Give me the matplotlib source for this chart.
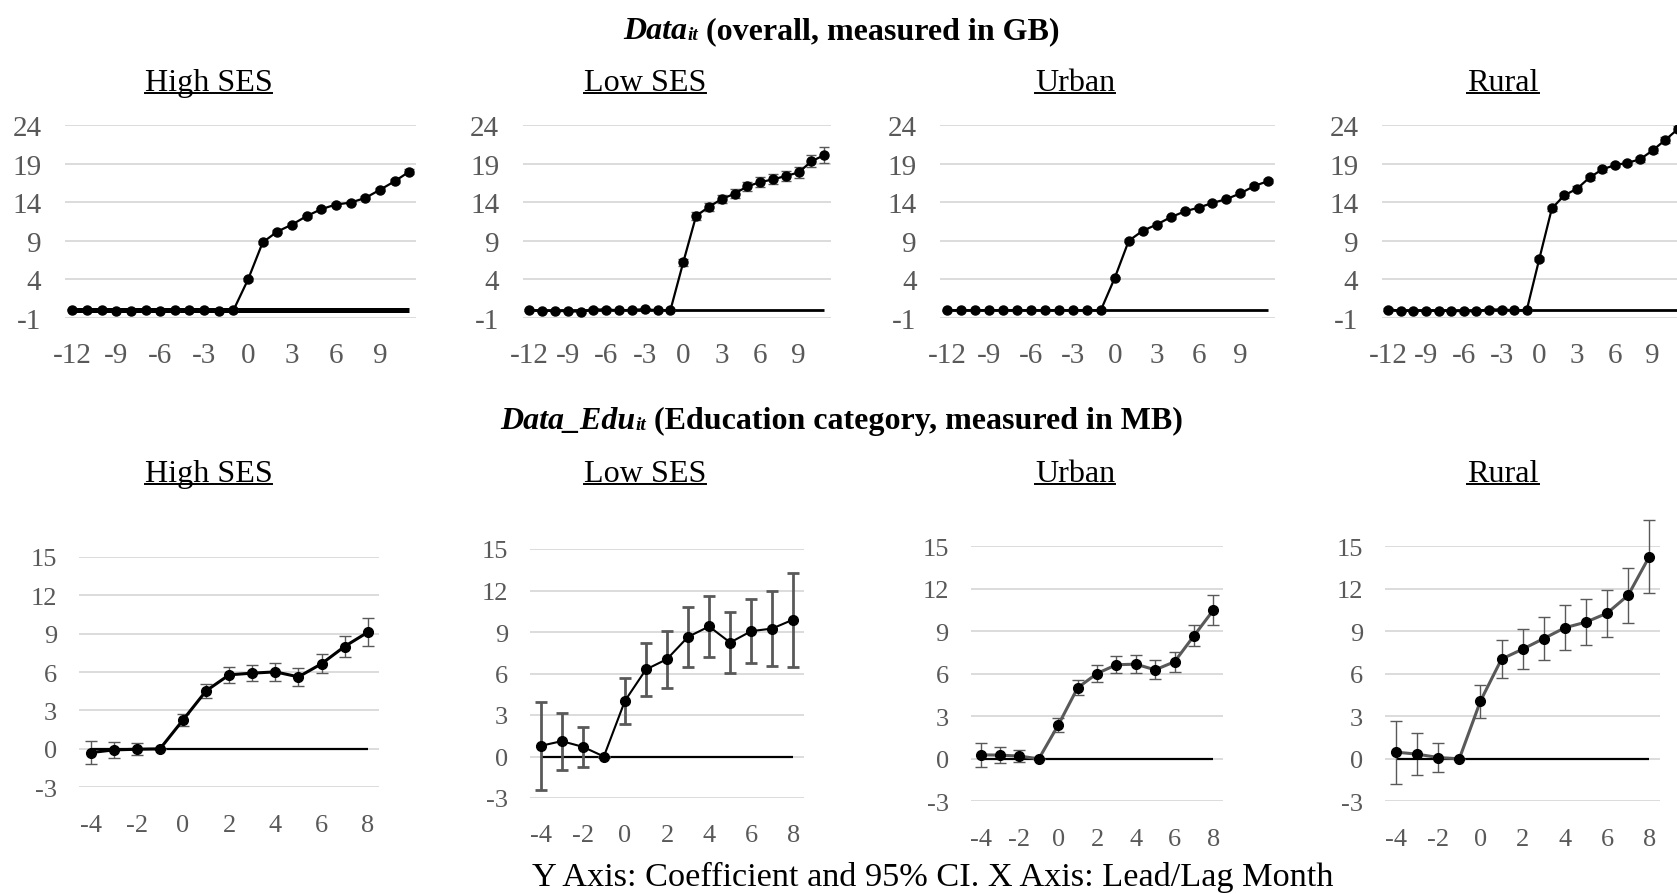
import matplotlib
matplotlib.use('Agg')
import matplotlib.pyplot as plt
from matplotlib.lines import Line2D

W, H = 1677, 895
DPI = 100
plt.rcParams['font.family'] = ['Liberation Serif', 'DejaVu Serif']
plt.rcParams['axes.unicode_minus'] = False

# ---------------- data ----------------
panel_names = ["High SES", "Low SES", "Urban", "Rural"]

top_x = list(range(-12, 12))
top_ticks = [-12, -9, -6, -3, 0, 3, 6, 9]
top_yticks = [-1, 4, 9, 14, 19, 24]

top_high = [0.1, 0.1, 0.1, -0.05, -0.05, 0.0, -0.05, 0.0, 0.1, 0.1, -0.05, 0.0,
            4.0, 8.8, 10.2, 11.1, 12.2, 13.1, 13.7, 13.95, 14.55, 15.6, 16.7, 17.95]
top_high_err = [0.1]*12 + [0.15, 0.2, 0.2, 0.2, 0.2, 0.2, 0.2, 0.2, 0.2, 0.2, 0.25, 0.3]
top_high_err[11] = 0.0

top_low = [0.0, -0.05, -0.1, -0.1, -0.2, 0.1, 0.1, 0.0, 0.05, 0.15, 0.0, 0.0,
           6.2, 12.2, 13.4, 14.4, 15.1, 16.05, 16.6, 16.95, 17.4, 17.85, 19.3, 20.1]
top_low_err = [0.15]*12 + [0.4, 0.5, 0.55, 0.55, 0.6, 0.6, 0.6, 0.65, 0.65, 0.7, 0.8, 1.05]
top_low_err[11] = 0.0

top_urban = [0.0, 0.0, 0.0, 0.0, 0.0, 0.0, 0.0, 0.0, 0.0, 0.0, 0.0, 0.0,
             4.2, 9.0, 10.3, 11.1, 12.05, 12.8, 13.3, 13.9, 14.4, 15.15, 16.1, 16.75]
top_urban_err = [0.1]*12 + [0.15, 0.2, 0.2, 0.2, 0.2, 0.2, 0.2, 0.2, 0.2, 0.2, 0.25, 0.25]
top_urban_err[11] = 0.0

top_rural = [0.1, -0.05, -0.05, -0.05, -0.05, -0.05, -0.15, -0.1, 0.1, 0.1, 0.0, 0.0,
             6.65, 13.2, 14.9, 15.75, 17.2, 18.25, 18.8, 19.1, 19.55, 20.7, 22.05, 23.45]
top_rural_err = [0.15]*12 + [0.3, 0.3, 0.3, 0.3, 0.3, 0.3, 0.3, 0.3, 0.3, 0.35, 0.35, 0.4]
top_rural_err[11] = 0.0

bot_x = list(range(-4, 9))
bot_ticks = [-4, -2, 0, 2, 4, 6, 8]
bot_yticks = [-3, 0, 3, 6, 9, 12, 15]

bot_high = [-0.29, -0.08, -0.03, 0.0, 2.26, 4.53, 5.78, 5.91, 6.01, 5.62, 6.64, 7.99, 9.1]
bot_high_err = [0.91, 0.6, 0.45, 0.0, 0.5, 0.57, 0.62, 0.64, 0.69, 0.69, 0.73, 0.85, 1.09]

bot_low = [0.77, 1.11, 0.7, 0.0, 4.02, 6.29, 7.04, 8.65, 9.4, 8.24, 9.06, 9.25, 9.9]
bot_low_err = [3.19, 2.05, 1.46, 0.0, 1.66, 1.95, 2.06, 2.16, 2.2, 2.2, 2.3, 2.7, 3.4]

bot_urban = [0.28, 0.26, 0.19, 0.0, 2.38, 5.01, 6.02, 6.64, 6.68, 6.28, 6.85, 8.68, 10.49]
bot_urban_err = [0.84, 0.58, 0.44, 0.0, 0.47, 0.54, 0.61, 0.61, 0.65, 0.67, 0.69, 0.75, 1.06]

bot_rural = [0.47, 0.33, 0.09, 0.0, 4.07, 7.04, 7.74, 8.49, 9.25, 9.65, 10.28, 11.55, 14.28]
bot_rural_err = [2.22, 1.46, 1.0, 0.0, 1.16, 1.35, 1.42, 1.5, 1.58, 1.62, 1.67, 1.95, 2.55]

title_top = ("Data", "it", " (overall, measured in GB)")
title_bot = ("Data_Edu", "it", " (Education category, measured in MB)")
footer = "Y Axis: Coefficient and 95% CI. X Axis: Lead/Lag Month"

# ---------------- layout (pixels) ----------------
fig = plt.figure(figsize=(W / DPI, H / DPI), dpi=DPI)
fig.patch.set_facecolor('white')
renderer = fig.canvas.get_renderer()

GRAY = '#595959'
GRID = '#d9d9d9'


def add_ax(x0, x1, ytop, ybot):
    return fig.add_axes([x0 / W, 1 - ybot / H, (x1 - x0) / W, (ybot - ytop) / H])


def style_ax(ax, xticks, yticks, xlim, ylim, fs, ypad, xpad):
    ax.set_xlim(*xlim)
    ax.set_ylim(*ylim)
    ax.set_xticks(xticks)
    ax.set_yticks(yticks)
    for s in ax.spines.values():
        s.set_visible(False)
    ax.tick_params(length=0, labelsize=fs, labelcolor=GRAY)
    ax.tick_params(axis='y', pad=ypad)
    ax.tick_params(axis='x', pad=xpad)
    ax.yaxis.grid(True, color=GRID, lw=1.3, zorder=0)
    ax.set_axisbelow(True)
    ax.patch.set_alpha(0)


top_specs = [
    (top_high, top_high_err, 65, 416.5, 3.6),
    (top_low, top_low_err, 522.9, 830.7, 2.0),
    (top_urban, top_urban_err, 940.3, 1275.3, 2.0),
    (top_rural, top_rural_err, 1382.0, 1684.0, 2.0),
]
for vals, errs, x0, x1, zlw in top_specs:
    ax = add_ax(x0, x1, 126, 319)
    style_ax(ax, top_ticks, top_yticks, (-12.5, 11.5), (-1, 24), 21, 17, 17)
    ax.plot([top_x[0], top_x[-1]], [0, 0], color='black', lw=zlw, zorder=2,
            solid_capstyle='butt')
    ax.errorbar(top_x, vals, yerr=errs, fmt='none', ecolor=GRAY, elinewidth=1.0,
                capsize=3.5, capthick=1.0, zorder=3)
    ax.plot(top_x, vals, color='black', lw=1.6, marker='o', ms=6.5,
            mfc='black', mec='black', zorder=4)

bot_specs = [
    (bot_high, bot_high_err, 79.2, 379.2, 557.7, 788.3, 'black', 2.2, 1.0),
    (bot_low, bot_low_err, 530.2, 803.8, 550.0, 799.0, 'black', 1.5, 2.0),
    (bot_urban, bot_urban_err, 971.0, 1223.0, 547.3, 802.3, GRAY, 2.2, 1.0),
    (bot_rural, bot_rural_err, 1385.4, 1659.9, 547.3, 802.3, GRAY, 2.2, 1.0),
]
for vals, errs, x0, x1, yt, yb, lc, llw, elw in bot_specs:
    ax = add_ax(x0, x1, yt, yb)
    style_ax(ax, bot_ticks, bot_yticks, (-4.5, 8.5), (-3, 15), 19, 16, 19)
    ax.plot([bot_x[0], bot_x[-1]], [0, 0], color='black', lw=1.6, zorder=2,
            solid_capstyle='butt')
    ax.errorbar(bot_x, vals, yerr=errs, fmt='none', ecolor=GRAY, elinewidth=elw,
                capsize=4.5, capthick=elw, zorder=3, clip_on=False)
    ax.plot(bot_x, vals, color=lc, lw=llw, marker='o', ms=7,
            mfc='black', mec='black', zorder=4, clip_on=False)


# ---------------- text helpers ----------------
def measure(txt, **kw):
    t = fig.text(0, 0, txt, **kw)
    w = t.get_window_extent(renderer).width
    t.remove()
    return w


def fit_size(txt, target_w, **kw):
    w = measure(txt, fontsize=20, **kw)
    return 20 * target_w / w


def composite_title(parts, x_left, x_right, baseline):
    main, sub, rest = parts
    kw_main = dict(fontweight='bold', fontstyle='italic')
    kw_rest = dict(fontweight='bold')
    w_main = measure(main, fontsize=20, **kw_main)
    w_sub = measure(sub, fontsize=12, **kw_main)
    w_rest = measure(rest, fontsize=20, **kw_rest)
    scale = (x_right - x_left) / (w_main + w_sub + w_rest)
    fs = 20 * scale
    x = x_left
    for txt, size, kw, dy in [(main, fs, kw_main, 0), (sub, fs * 0.6, kw_main, -1),
                              (rest, fs, kw_rest, 0)]:
        t = fig.text(x / W, 1 - (baseline - dy) / H, txt, fontsize=size, ha='left',
                     va='baseline', color='black', **kw)
        x += t.get_window_extent(renderer).width


def underlined(txt, cx, baseline, target_w, ul_y):
    fs = fit_size(txt, target_w)
    t = fig.text(cx / W, 1 - baseline / H, txt, fontsize=fs, ha='center',
                 va='baseline', color='black')
    bb = t.get_window_extent(renderer)
    fig.add_artist(Line2D([bb.x0 / W, bb.x1 / W], [1 - ul_y / H, 1 - ul_y / H],
                          transform=fig.transFigure, color='black', lw=1.4))


composite_title(title_top, 623.5, 1060.0, 39)
composite_title(title_bot, 500.5, 1184.0, 429)

top_centers = [208.5, 645.0, 1075.0, 1503.0]
ref_w = measure("High SES", fontsize=20)
for name, cx in zip(panel_names, top_centers):
    w = 127.7 * measure(name, fontsize=20) / ref_w
    underlined(name, cx, 90.7, w, 93.9)
for name, cx in zip(panel_names, top_centers):
    w = 127.7 * measure(name, fontsize=20) / ref_w
    underlined(name, cx, 482.0, w, 485.2)

fs_footer = fit_size(footer, 802)
fig.text(933 / W, 1 - 886 / H, footer, fontsize=fs_footer, ha='center',
         va='baseline', color='black')

fig.savefig('out.png', dpi=DPI, facecolor='white')
